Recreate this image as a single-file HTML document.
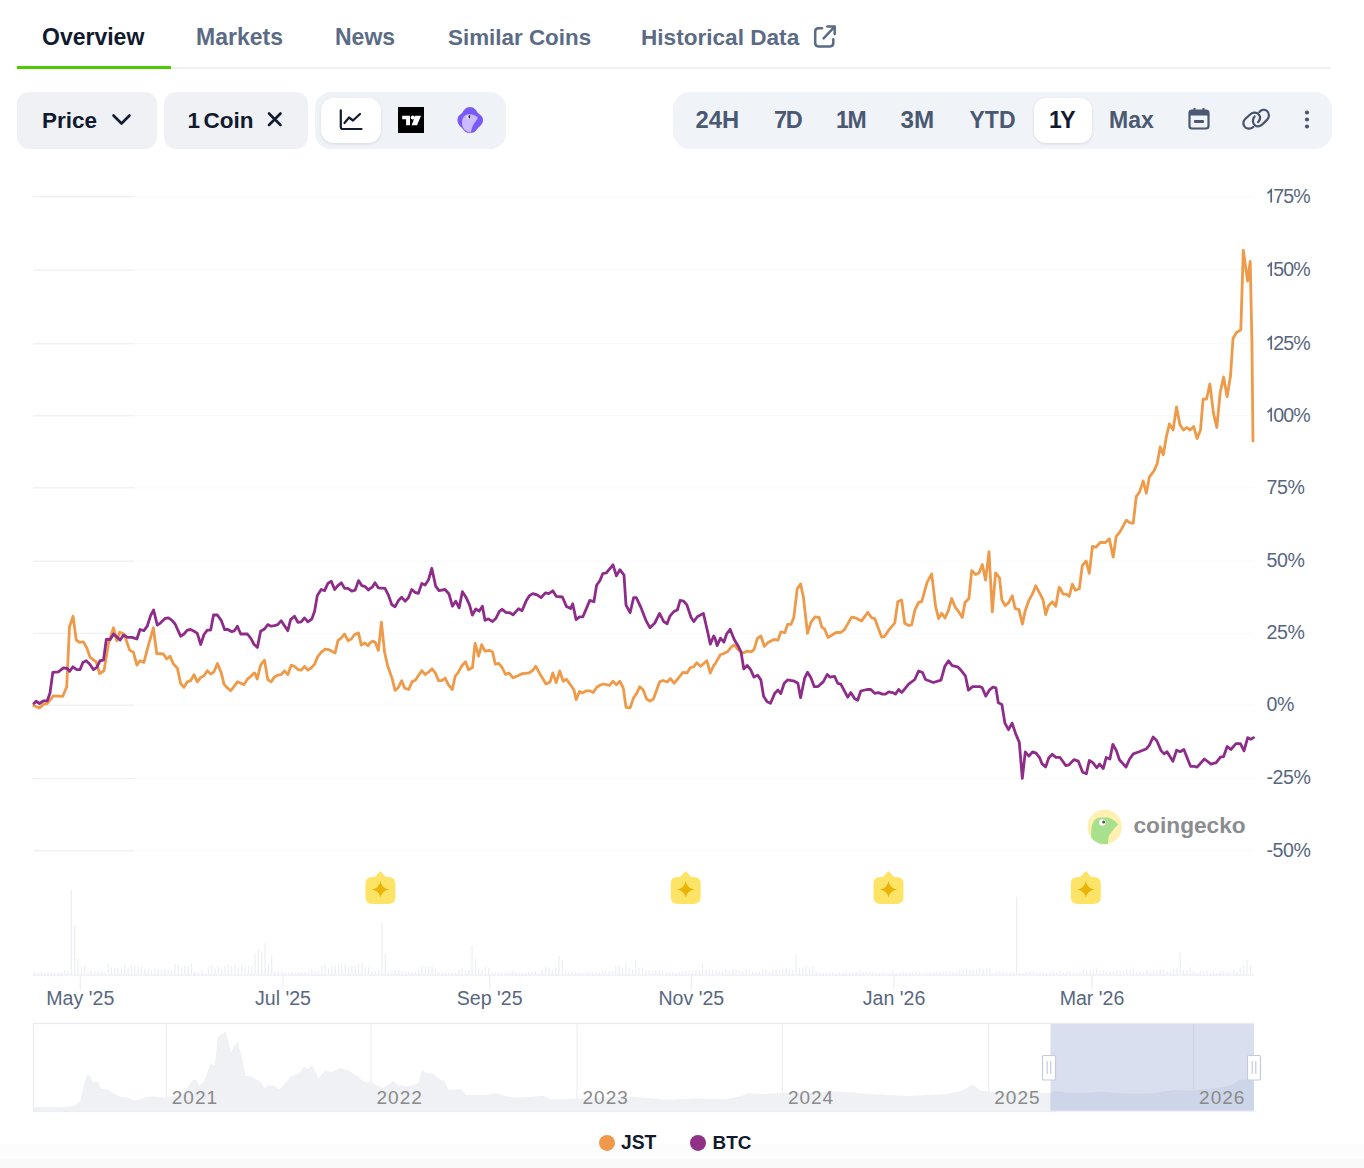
<!DOCTYPE html>
<html><head><meta charset="utf-8"><style>
html,body{margin:0;padding:0;background:#fff;width:1364px;height:1168px;overflow:hidden;position:relative;font-family:"Liberation Sans",sans-serif}
</style></head><body>
<svg width="1364" height="1168" viewBox="0 0 1364 1168" style="position:absolute;left:0;top:0"><defs><linearGradient id="bg" x1="0" y1="0" x2="0" y2="1"><stop offset="0" stop-color="#ffffff"/><stop offset="1" stop-color="#f8f9fa"/></linearGradient></defs><rect x="0" y="1144" width="1364" height="15" fill="#fcfcfd"/><rect x="0" y="1159" width="1364" height="9" fill="#f9f9fa"/><rect x="17" y="67" width="1314" height="2" fill="#eff1f4"/><rect x="17" y="66" width="154" height="3" fill="#4bcc00"/><g font-family="Liberation Sans, sans-serif" font-weight="bold" font-size="23" fill="#5b6b86"><text x="42" y="45" fill="#111a2e">Overview</text><text x="196" y="45">Markets</text><text x="335" y="45">News</text><text x="448" y="45" font-size="22.4">Similar Coins</text><text x="641" y="45" font-size="22.6">Historical Data</text></g><g fill="none" stroke="#5b6b86" stroke-width="2.5" stroke-linecap="round" stroke-linejoin="round"><path d="M822,28.2 L818.5,28.2 Q815.2,28.2 815.2,31.5 L815.2,43 Q815.2,46.4 818.5,46.4 L830,46.4 Q833.3,46.4 833.3,43 L833.3,39.3"/><path d="M827.3,26.6 L834.7,26.6 L834.7,34"/><path d="M834.2,27.1 L823.6,38.3"/></g><rect x="17" y="92" width="140" height="57" rx="12" fill="#eff1f5"/><rect x="164" y="92" width="144" height="57" rx="12" fill="#eff1f5"/><rect x="315" y="92" width="191" height="57" rx="16" fill="#eff2f7"/><rect x="673" y="92" width="659" height="57" rx="17" fill="#f0f3f8"/><rect x="321" y="97.7" width="60" height="45.3" rx="13" fill="#ffffff" filter="drop-shadow(0 1px 1.5px rgba(0,0,0,0.10))"/><rect x="1034" y="98" width="58" height="45" rx="12" fill="#ffffff" filter="drop-shadow(0 1px 1.5px rgba(0,0,0,0.10))"/><g font-family="Liberation Sans, sans-serif" font-weight="bold" font-size="22.5" fill="#111a2e"><text x="42" y="128">Price</text><text x="187.5" y="128">1</text><text x="203.5" y="128">Coin</text></g><path d="M113.5,115.5 L121.5,123.5 L129.5,115.5" fill="none" stroke="#111a2e" stroke-width="2.6" stroke-linecap="round" stroke-linejoin="round"/><path d="M269,113.5 L280.5,125 M280.5,113.5 L269,125" fill="none" stroke="#111a2e" stroke-width="2.6" stroke-linecap="round"/><path d="M340.8,110.3 L340.8,127 Q340.8,129 342.8,129 L361.5,129" fill="none" stroke="#111a2e" stroke-width="2.2" stroke-linecap="round"/><path d="M344.5,123 L349,117.5 L353,120.5 L360,114" fill="none" stroke="#111a2e" stroke-width="2.2" stroke-linecap="round" stroke-linejoin="round"/><rect x="398" y="107" width="26" height="26" fill="#000"/><path d="M402.2,115.7 L410,115.7 L410,125.2 L406.1,125.2 L406.1,119.2 L402.2,119.2 Z M415.2,115.7 L421,115.7 L417,125.2 L411.6,125.2 Z" fill="#fff"/><circle cx="412.8" cy="117.5" r="2.1" fill="#fff"/><path d="M470,107 C474,107 476,110 478,113 C480,115 483,116 483,120 C483,124 480,126 478,128 C476,131 474,133 470,133 C466,133 464,131 462,128 C460,126 457.5,124 457.5,120 C457.5,116 460,115 462,113 C464,110 466,107 470,107 Z" fill="#7a5af5"/><path d="M465,115.5 C468,113.5 474,114 477.5,117.3 C478.5,118.5 475,122 473.5,124.5 C472,127 471.5,130 470.8,132.6 C467,132 464,130 463,127.5 C461.5,124 461.5,118 465,115.5 Z" fill="#cbbafd"/><circle cx="468.9" cy="116.9" r="1.9" fill="#f4f0ff"/><ellipse cx="469.4" cy="116.8" rx="0.9" ry="1.7" fill="#1e1b4b"/><g font-family="Liberation Sans, sans-serif" font-weight="bold" font-size="23" fill="#4a5872"><text x="695.5" y="128" font-size="23.8" letter-spacing="0">24H</text><text x="774" y="128" font-size="23.5" letter-spacing="-1.3">7D</text><text x="836" y="128" font-size="23" letter-spacing="-1.2">1M</text><text x="900.5" y="128" font-size="24.2" letter-spacing="0">3M</text><text x="969.5" y="128" font-size="23" letter-spacing="0">YTD</text><text x="1109" y="128" font-size="23" letter-spacing="0">Max</text><text x="1049" y="128" font-size="23" letter-spacing="-1.6" fill="#111a2e">1Y</text></g><rect x="1189.5" y="110.5" width="19" height="18" rx="2.5" fill="none" stroke="#4a5872" stroke-width="2.2"/><rect x="1189.5" y="110.5" width="19" height="5" fill="#4a5872"/><rect x="1194" y="120" width="10" height="3" rx="1" fill="#4a5872"/><path d="M1194.5,108 L1194.5,111 M1203.5,108 L1203.5,111" stroke="#4a5872" stroke-width="2"/><g fill="none" stroke="#46536c" stroke-width="2.2" stroke-linecap="round"><path d="M1253.3,127 C1251,129 1246.5,129.5 1244.5,126.5 C1242.5,123.5 1243.5,120.5 1245.7,118.5 L1250.4,114.2 C1253,111.8 1257.3,112 1259.3,115 C1260.6,117.2 1260,120 1258.1,122.2"/><path d="M1254.6,116.4 C1252.2,119 1252.3,123.2 1255,125.3 C1257.5,127.2 1260.8,126 1262.5,124.3 L1267.2,119.6 C1269.5,117.2 1269.6,113.2 1267,111 C1264.5,109 1261.3,109.8 1259.4,111.9"/></g><circle cx="1307" cy="112.5" r="2.1" fill="#4a5872"/><circle cx="1307" cy="119.5" r="2.1" fill="#4a5872"/><circle cx="1307" cy="126.5" r="2.1" fill="#4a5872"/><rect x="33" y="196.1" width="1221" height="1.2" fill="#f9fafb"/><rect x="33" y="196.1" width="101" height="1.2" fill="#edf0f3"/><rect x="33" y="269.5" width="1221" height="1.2" fill="#f9fafb"/><rect x="33" y="269.5" width="101" height="1.2" fill="#edf0f3"/><rect x="33" y="343.1" width="1221" height="1.2" fill="#f9fafb"/><rect x="33" y="343.1" width="101" height="1.2" fill="#edf0f3"/><rect x="33" y="415.1" width="1221" height="1.2" fill="#f9fafb"/><rect x="33" y="415.1" width="101" height="1.2" fill="#edf0f3"/><rect x="33" y="487.2" width="1221" height="1.2" fill="#f9fafb"/><rect x="33" y="487.2" width="101" height="1.2" fill="#edf0f3"/><rect x="33" y="560.6" width="1221" height="1.2" fill="#f9fafb"/><rect x="33" y="560.6" width="101" height="1.2" fill="#edf0f3"/><rect x="33" y="632.8" width="1221" height="1.2" fill="#f9fafb"/><rect x="33" y="632.8" width="101" height="1.2" fill="#edf0f3"/><rect x="33" y="704.6" width="1221" height="1.2" fill="#f9fafb"/><rect x="33" y="704.6" width="101" height="1.2" fill="#edf0f3"/><rect x="33" y="777.9" width="1221" height="1.2" fill="#f9fafb"/><rect x="33" y="777.9" width="101" height="1.2" fill="#edf0f3"/><rect x="33" y="850.1" width="1221" height="1.2" fill="#f9fafb"/><rect x="33" y="850.1" width="101" height="1.2" fill="#edf0f3"/><g font-family="Liberation Sans, sans-serif" font-size="19.6" letter-spacing="-0.4" fill="#58677f"><path d="M1267.6,193.3 L1271.2,190.0 L1271.2,202.5" fill="none" stroke="#58677f" stroke-width="1.75" stroke-linejoin="miter"/><text x="1273.3" y="202.5" letter-spacing="-0.9">75%</text><path d="M1267.6,266.7 L1271.2,263.4 L1271.2,275.9" fill="none" stroke="#58677f" stroke-width="1.75" stroke-linejoin="miter"/><text x="1273.3" y="275.9" letter-spacing="-0.9">50%</text><path d="M1267.6,340.3 L1271.2,337.0 L1271.2,349.5" fill="none" stroke="#58677f" stroke-width="1.75" stroke-linejoin="miter"/><text x="1273.3" y="349.5" letter-spacing="-0.9">25%</text><path d="M1267.6,412.3 L1271.2,409.0 L1271.2,421.5" fill="none" stroke="#58677f" stroke-width="1.75" stroke-linejoin="miter"/><text x="1273.3" y="421.5" letter-spacing="-0.9">00%</text><text x="1266.5" y="493.6">75%</text><text x="1266.5" y="567.0">50%</text><text x="1266.5" y="639.2">25%</text><text x="1266.5" y="711.0">0%</text><text x="1266.5" y="784.3">-25%</text><text x="1266.5" y="856.5">-50%</text></g><g fill="#eceef3"><rect x="34.0" y="972.4" width="1.2" height="2.6"/><rect x="37.3" y="972.7" width="1.2" height="2.3"/><rect x="40.7" y="971.7" width="1.2" height="3.3"/><rect x="44.0" y="972.9" width="1.2" height="2.1"/><rect x="47.4" y="971.9" width="1.2" height="3.1"/><rect x="50.7" y="972.3" width="1.2" height="2.7"/><rect x="54.0" y="972.9" width="1.2" height="2.1"/><rect x="57.4" y="972.0" width="1.2" height="3.0"/><rect x="60.7" y="972.9" width="1.2" height="2.1"/><rect x="64.1" y="970.1" width="1.2" height="4.9"/><rect x="67.4" y="970.9" width="1.2" height="4.1"/><rect x="70.7" y="890.0" width="1.2" height="85.0"/><rect x="74.1" y="925.0" width="1.2" height="50.0"/><rect x="77.4" y="959.0" width="1.2" height="16.0"/><rect x="80.8" y="966.3" width="1.2" height="8.7"/><rect x="84.1" y="965.7" width="1.2" height="9.3"/><rect x="87.4" y="971.7" width="1.2" height="3.3"/><rect x="90.8" y="971.1" width="1.2" height="3.9"/><rect x="94.1" y="971.8" width="1.2" height="3.2"/><rect x="97.5" y="972.2" width="1.2" height="2.8"/><rect x="100.8" y="971.0" width="1.2" height="4.0"/><rect x="104.1" y="972.9" width="1.2" height="2.1"/><rect x="107.5" y="963.8" width="1.2" height="11.2"/><rect x="110.8" y="967.3" width="1.2" height="7.7"/><rect x="114.2" y="968.1" width="1.2" height="6.9"/><rect x="117.5" y="968.3" width="1.2" height="6.7"/><rect x="120.8" y="967.1" width="1.2" height="7.9"/><rect x="124.2" y="964.1" width="1.2" height="10.9"/><rect x="127.5" y="967.9" width="1.2" height="7.1"/><rect x="130.9" y="965.5" width="1.2" height="9.5"/><rect x="134.2" y="965.2" width="1.2" height="9.8"/><rect x="137.5" y="966.8" width="1.2" height="8.2"/><rect x="140.9" y="965.7" width="1.2" height="9.3"/><rect x="144.2" y="968.6" width="1.2" height="6.4"/><rect x="147.6" y="968.6" width="1.2" height="6.4"/><rect x="150.9" y="970.2" width="1.2" height="4.8"/><rect x="154.2" y="968.3" width="1.2" height="6.7"/><rect x="157.6" y="969.3" width="1.2" height="5.7"/><rect x="160.9" y="969.7" width="1.2" height="5.3"/><rect x="164.3" y="968.7" width="1.2" height="6.3"/><rect x="167.6" y="969.2" width="1.2" height="5.8"/><rect x="170.9" y="969.8" width="1.2" height="5.2"/><rect x="174.3" y="964.2" width="1.2" height="10.8"/><rect x="177.6" y="964.8" width="1.2" height="10.2"/><rect x="181.0" y="967.5" width="1.2" height="7.5"/><rect x="184.3" y="965.6" width="1.2" height="9.4"/><rect x="187.6" y="965.8" width="1.2" height="9.2"/><rect x="191.0" y="963.7" width="1.2" height="11.3"/><rect x="194.3" y="971.5" width="1.2" height="3.5"/><rect x="197.7" y="972.4" width="1.2" height="2.6"/><rect x="201.0" y="971.0" width="1.2" height="4.0"/><rect x="204.3" y="972.8" width="1.2" height="2.2"/><rect x="207.7" y="966.9" width="1.2" height="8.1"/><rect x="211.0" y="965.2" width="1.2" height="9.8"/><rect x="214.4" y="968.2" width="1.2" height="6.8"/><rect x="217.7" y="966.6" width="1.2" height="8.4"/><rect x="221.0" y="968.8" width="1.2" height="6.2"/><rect x="224.4" y="965.7" width="1.2" height="9.3"/><rect x="227.7" y="965.2" width="1.2" height="9.8"/><rect x="231.1" y="966.1" width="1.2" height="8.9"/><rect x="234.4" y="964.6" width="1.2" height="10.4"/><rect x="237.7" y="967.4" width="1.2" height="7.6"/><rect x="241.1" y="965.5" width="1.2" height="9.5"/><rect x="244.4" y="966.0" width="1.2" height="9.0"/><rect x="247.8" y="966.1" width="1.2" height="8.9"/><rect x="251.1" y="966.7" width="1.2" height="8.3"/><rect x="254.4" y="953.2" width="1.2" height="21.8"/><rect x="257.8" y="949.0" width="1.2" height="26.0"/><rect x="261.1" y="952.0" width="1.2" height="23.0"/><rect x="264.5" y="943.0" width="1.2" height="32.0"/><rect x="267.8" y="964.2" width="1.2" height="10.8"/><rect x="271.1" y="955.2" width="1.2" height="19.8"/><rect x="274.5" y="971.7" width="1.2" height="3.3"/><rect x="277.8" y="971.0" width="1.2" height="4.0"/><rect x="281.2" y="971.4" width="1.2" height="3.6"/><rect x="284.5" y="972.4" width="1.2" height="2.6"/><rect x="287.8" y="972.2" width="1.2" height="2.8"/><rect x="291.2" y="971.7" width="1.2" height="3.3"/><rect x="294.5" y="973.0" width="1.2" height="2.0"/><rect x="297.9" y="972.1" width="1.2" height="2.9"/><rect x="301.2" y="971.5" width="1.2" height="3.5"/><rect x="304.5" y="971.6" width="1.2" height="3.4"/><rect x="307.9" y="971.8" width="1.2" height="3.2"/><rect x="311.2" y="969.7" width="1.2" height="5.3"/><rect x="314.6" y="971.6" width="1.2" height="3.4"/><rect x="317.9" y="971.3" width="1.2" height="3.7"/><rect x="321.2" y="966.0" width="1.2" height="9.0"/><rect x="324.6" y="963.6" width="1.2" height="11.4"/><rect x="327.9" y="967.6" width="1.2" height="7.4"/><rect x="331.3" y="965.8" width="1.2" height="9.2"/><rect x="334.6" y="965.3" width="1.2" height="9.7"/><rect x="337.9" y="963.6" width="1.2" height="11.4"/><rect x="341.3" y="963.9" width="1.2" height="11.1"/><rect x="344.6" y="963.7" width="1.2" height="11.3"/><rect x="348.0" y="966.6" width="1.2" height="8.4"/><rect x="351.3" y="965.9" width="1.2" height="9.1"/><rect x="354.6" y="966.2" width="1.2" height="8.8"/><rect x="358.0" y="963.6" width="1.2" height="11.4"/><rect x="361.3" y="963.2" width="1.2" height="11.8"/><rect x="364.7" y="967.2" width="1.2" height="7.8"/><rect x="368.0" y="967.1" width="1.2" height="7.9"/><rect x="371.3" y="971.1" width="1.2" height="3.9"/><rect x="374.7" y="971.1" width="1.2" height="3.9"/><rect x="378.0" y="970.1" width="1.2" height="4.9"/><rect x="381.4" y="922.0" width="1.2" height="53.0"/><rect x="384.7" y="954.0" width="1.2" height="21.0"/><rect x="388.0" y="972.0" width="1.2" height="3.0"/><rect x="391.4" y="970.3" width="1.2" height="4.7"/><rect x="394.7" y="970.5" width="1.2" height="4.5"/><rect x="398.1" y="969.7" width="1.2" height="5.3"/><rect x="401.4" y="971.1" width="1.2" height="3.9"/><rect x="404.7" y="971.6" width="1.2" height="3.4"/><rect x="408.1" y="972.0" width="1.2" height="3.0"/><rect x="411.4" y="971.8" width="1.2" height="3.2"/><rect x="414.8" y="971.6" width="1.2" height="3.4"/><rect x="418.1" y="969.8" width="1.2" height="5.2"/><rect x="421.4" y="966.4" width="1.2" height="8.6"/><rect x="424.8" y="966.9" width="1.2" height="8.1"/><rect x="428.1" y="966.5" width="1.2" height="8.5"/><rect x="431.5" y="966.8" width="1.2" height="8.2"/><rect x="434.8" y="968.4" width="1.2" height="6.6"/><rect x="438.1" y="972.2" width="1.2" height="2.8"/><rect x="441.5" y="972.8" width="1.2" height="2.2"/><rect x="444.8" y="971.7" width="1.2" height="3.3"/><rect x="448.2" y="972.9" width="1.2" height="2.1"/><rect x="451.5" y="972.9" width="1.2" height="2.1"/><rect x="454.8" y="972.6" width="1.2" height="2.4"/><rect x="458.2" y="969.4" width="1.2" height="5.6"/><rect x="461.5" y="968.6" width="1.2" height="6.4"/><rect x="464.9" y="969.8" width="1.2" height="5.2"/><rect x="468.2" y="970.0" width="1.2" height="5.0"/><rect x="471.5" y="946.0" width="1.2" height="29.0"/><rect x="474.9" y="958.0" width="1.2" height="17.0"/><rect x="478.2" y="968.5" width="1.2" height="6.5"/><rect x="481.6" y="969.9" width="1.2" height="5.1"/><rect x="484.9" y="966.5" width="1.2" height="8.5"/><rect x="488.2" y="967.5" width="1.2" height="7.5"/><rect x="491.6" y="972.7" width="1.2" height="2.3"/><rect x="494.9" y="972.5" width="1.2" height="2.5"/><rect x="498.3" y="972.3" width="1.2" height="2.7"/><rect x="501.6" y="972.3" width="1.2" height="2.7"/><rect x="504.9" y="972.8" width="1.2" height="2.2"/><rect x="508.3" y="971.3" width="1.2" height="3.7"/><rect x="511.6" y="971.0" width="1.2" height="4.0"/><rect x="515.0" y="972.1" width="1.2" height="2.9"/><rect x="518.3" y="972.0" width="1.2" height="3.0"/><rect x="521.6" y="972.8" width="1.2" height="2.2"/><rect x="525.0" y="972.8" width="1.2" height="2.2"/><rect x="528.3" y="972.3" width="1.2" height="2.7"/><rect x="531.7" y="972.5" width="1.2" height="2.5"/><rect x="535.0" y="971.3" width="1.2" height="3.7"/><rect x="538.3" y="972.7" width="1.2" height="2.3"/><rect x="541.7" y="969.9" width="1.2" height="5.1"/><rect x="545.0" y="966.2" width="1.2" height="8.8"/><rect x="548.4" y="967.9" width="1.2" height="7.1"/><rect x="551.7" y="969.4" width="1.2" height="5.6"/><rect x="555.0" y="967.8" width="1.2" height="7.2"/><rect x="558.4" y="956.0" width="1.2" height="19.0"/><rect x="561.7" y="960.0" width="1.2" height="15.0"/><rect x="565.1" y="971.0" width="1.2" height="4.0"/><rect x="568.4" y="971.3" width="1.2" height="3.7"/><rect x="571.7" y="971.6" width="1.2" height="3.4"/><rect x="575.1" y="972.5" width="1.2" height="2.5"/><rect x="578.4" y="972.3" width="1.2" height="2.7"/><rect x="581.8" y="972.7" width="1.2" height="2.3"/><rect x="585.1" y="971.5" width="1.2" height="3.5"/><rect x="588.4" y="971.9" width="1.2" height="3.1"/><rect x="591.8" y="971.4" width="1.2" height="3.6"/><rect x="595.1" y="972.3" width="1.2" height="2.7"/><rect x="598.5" y="972.6" width="1.2" height="2.4"/><rect x="601.8" y="971.4" width="1.2" height="3.6"/><rect x="605.1" y="971.0" width="1.2" height="4.0"/><rect x="608.5" y="971.3" width="1.2" height="3.7"/><rect x="611.8" y="971.4" width="1.2" height="3.6"/><rect x="615.2" y="965.7" width="1.2" height="9.3"/><rect x="618.5" y="966.0" width="1.2" height="9.0"/><rect x="621.8" y="968.1" width="1.2" height="6.9"/><rect x="625.2" y="962.0" width="1.2" height="13.0"/><rect x="628.5" y="967.6" width="1.2" height="7.4"/><rect x="631.9" y="968.9" width="1.2" height="6.1"/><rect x="635.2" y="960.0" width="1.2" height="15.0"/><rect x="638.5" y="967.9" width="1.2" height="7.1"/><rect x="641.9" y="968.0" width="1.2" height="7.0"/><rect x="645.2" y="970.9" width="1.2" height="4.1"/><rect x="648.6" y="970.1" width="1.2" height="4.9"/><rect x="651.9" y="971.7" width="1.2" height="3.3"/><rect x="655.2" y="970.2" width="1.2" height="4.8"/><rect x="658.6" y="970.0" width="1.2" height="5.0"/><rect x="661.9" y="970.1" width="1.2" height="4.9"/><rect x="665.3" y="971.9" width="1.2" height="3.1"/><rect x="668.6" y="972.3" width="1.2" height="2.7"/><rect x="671.9" y="972.3" width="1.2" height="2.7"/><rect x="675.3" y="972.4" width="1.2" height="2.6"/><rect x="678.6" y="972.4" width="1.2" height="2.6"/><rect x="682.0" y="971.1" width="1.2" height="3.9"/><rect x="685.3" y="970.3" width="1.2" height="4.7"/><rect x="688.6" y="970.5" width="1.2" height="4.5"/><rect x="692.0" y="971.6" width="1.2" height="3.4"/><rect x="695.3" y="971.0" width="1.2" height="4.0"/><rect x="698.7" y="970.6" width="1.2" height="4.4"/><rect x="702.0" y="964.0" width="1.2" height="11.0"/><rect x="705.3" y="970.0" width="1.2" height="5.0"/><rect x="708.7" y="969.3" width="1.2" height="5.7"/><rect x="712.0" y="969.7" width="1.2" height="5.3"/><rect x="715.4" y="969.7" width="1.2" height="5.3"/><rect x="718.7" y="970.6" width="1.2" height="4.4"/><rect x="722.0" y="971.5" width="1.2" height="3.5"/><rect x="725.4" y="969.6" width="1.2" height="5.4"/><rect x="728.7" y="971.0" width="1.2" height="4.0"/><rect x="732.1" y="969.6" width="1.2" height="5.4"/><rect x="735.4" y="969.1" width="1.2" height="5.9"/><rect x="738.7" y="970.8" width="1.2" height="4.2"/><rect x="742.1" y="970.8" width="1.2" height="4.2"/><rect x="745.4" y="969.2" width="1.2" height="5.8"/><rect x="748.8" y="969.8" width="1.2" height="5.2"/><rect x="752.1" y="971.5" width="1.2" height="3.5"/><rect x="755.4" y="971.6" width="1.2" height="3.4"/><rect x="758.8" y="971.5" width="1.2" height="3.5"/><rect x="762.1" y="969.3" width="1.2" height="5.7"/><rect x="765.5" y="969.6" width="1.2" height="5.4"/><rect x="768.8" y="971.6" width="1.2" height="3.4"/><rect x="772.1" y="969.5" width="1.2" height="5.5"/><rect x="775.5" y="969.1" width="1.2" height="5.9"/><rect x="778.8" y="970.0" width="1.2" height="5.0"/><rect x="782.2" y="968.6" width="1.2" height="6.4"/><rect x="785.5" y="967.8" width="1.2" height="7.2"/><rect x="788.8" y="969.5" width="1.2" height="5.5"/><rect x="792.2" y="969.9" width="1.2" height="5.1"/><rect x="795.5" y="955.0" width="1.2" height="20.0"/><rect x="798.9" y="967.4" width="1.2" height="7.6"/><rect x="802.2" y="967.9" width="1.2" height="7.1"/><rect x="805.5" y="966.3" width="1.2" height="8.7"/><rect x="808.9" y="968.3" width="1.2" height="6.7"/><rect x="812.2" y="966.5" width="1.2" height="8.5"/><rect x="815.6" y="971.3" width="1.2" height="3.7"/><rect x="818.9" y="972.6" width="1.2" height="2.4"/><rect x="822.2" y="972.5" width="1.2" height="2.5"/><rect x="825.6" y="972.4" width="1.2" height="2.6"/><rect x="828.9" y="972.5" width="1.2" height="2.5"/><rect x="832.3" y="971.8" width="1.2" height="3.2"/><rect x="835.6" y="972.5" width="1.2" height="2.5"/><rect x="838.9" y="972.2" width="1.2" height="2.8"/><rect x="842.3" y="972.7" width="1.2" height="2.3"/><rect x="845.6" y="971.2" width="1.2" height="3.8"/><rect x="849.0" y="972.3" width="1.2" height="2.7"/><rect x="852.3" y="972.1" width="1.2" height="2.9"/><rect x="855.6" y="971.8" width="1.2" height="3.2"/><rect x="859.0" y="971.2" width="1.2" height="3.8"/><rect x="862.3" y="972.2" width="1.2" height="2.8"/><rect x="865.7" y="971.2" width="1.2" height="3.8"/><rect x="869.0" y="972.0" width="1.2" height="3.0"/><rect x="872.3" y="971.9" width="1.2" height="3.1"/><rect x="875.7" y="972.0" width="1.2" height="3.0"/><rect x="879.0" y="973.0" width="1.2" height="2.0"/><rect x="882.4" y="972.1" width="1.2" height="2.9"/><rect x="885.7" y="972.6" width="1.2" height="2.4"/><rect x="889.0" y="973.0" width="1.2" height="2.0"/><rect x="892.4" y="971.4" width="1.2" height="3.6"/><rect x="895.7" y="972.7" width="1.2" height="2.3"/><rect x="899.1" y="972.1" width="1.2" height="2.9"/><rect x="902.4" y="971.5" width="1.2" height="3.5"/><rect x="905.7" y="971.9" width="1.2" height="3.1"/><rect x="909.1" y="972.3" width="1.2" height="2.7"/><rect x="912.4" y="972.0" width="1.2" height="3.0"/><rect x="915.8" y="971.9" width="1.2" height="3.1"/><rect x="919.1" y="971.4" width="1.2" height="3.6"/><rect x="922.4" y="972.8" width="1.2" height="2.2"/><rect x="925.8" y="971.9" width="1.2" height="3.1"/><rect x="929.1" y="972.5" width="1.2" height="2.5"/><rect x="932.5" y="972.4" width="1.2" height="2.6"/><rect x="935.8" y="971.5" width="1.2" height="3.5"/><rect x="939.1" y="972.0" width="1.2" height="3.0"/><rect x="942.5" y="971.9" width="1.2" height="3.1"/><rect x="945.8" y="971.5" width="1.2" height="3.5"/><rect x="949.2" y="971.2" width="1.2" height="3.8"/><rect x="952.5" y="972.1" width="1.2" height="2.9"/><rect x="955.8" y="971.8" width="1.2" height="3.2"/><rect x="959.2" y="969.5" width="1.2" height="5.5"/><rect x="962.5" y="969.5" width="1.2" height="5.5"/><rect x="965.9" y="968.9" width="1.2" height="6.1"/><rect x="969.2" y="969.6" width="1.2" height="5.4"/><rect x="972.5" y="969.4" width="1.2" height="5.6"/><rect x="975.9" y="969.6" width="1.2" height="5.4"/><rect x="979.2" y="968.2" width="1.2" height="6.8"/><rect x="982.6" y="968.9" width="1.2" height="6.1"/><rect x="985.9" y="968.4" width="1.2" height="6.6"/><rect x="989.2" y="968.2" width="1.2" height="6.8"/><rect x="992.6" y="972.5" width="1.2" height="2.5"/><rect x="995.9" y="971.9" width="1.2" height="3.1"/><rect x="999.3" y="971.1" width="1.2" height="3.9"/><rect x="1002.6" y="971.3" width="1.2" height="3.7"/><rect x="1005.9" y="972.7" width="1.2" height="2.3"/><rect x="1009.3" y="972.8" width="1.2" height="2.2"/><rect x="1012.6" y="972.1" width="1.2" height="2.9"/><rect x="1016.0" y="897.0" width="1.2" height="78.0"/><rect x="1019.3" y="972.5" width="1.2" height="2.5"/><rect x="1022.6" y="972.9" width="1.2" height="2.1"/><rect x="1026.0" y="971.7" width="1.2" height="3.3"/><rect x="1029.3" y="971.4" width="1.2" height="3.6"/><rect x="1032.7" y="971.2" width="1.2" height="3.8"/><rect x="1036.0" y="972.7" width="1.2" height="2.3"/><rect x="1039.3" y="971.6" width="1.2" height="3.4"/><rect x="1042.7" y="971.7" width="1.2" height="3.3"/><rect x="1046.0" y="972.7" width="1.2" height="2.3"/><rect x="1049.4" y="971.2" width="1.2" height="3.8"/><rect x="1052.7" y="971.1" width="1.2" height="3.9"/><rect x="1056.0" y="972.6" width="1.2" height="2.4"/><rect x="1059.4" y="971.1" width="1.2" height="3.9"/><rect x="1062.7" y="972.2" width="1.2" height="2.8"/><rect x="1066.1" y="972.0" width="1.2" height="3.0"/><rect x="1069.4" y="971.0" width="1.2" height="4.0"/><rect x="1072.7" y="971.3" width="1.2" height="3.7"/><rect x="1076.1" y="972.7" width="1.2" height="2.3"/><rect x="1079.4" y="972.1" width="1.2" height="2.9"/><rect x="1082.8" y="968.9" width="1.2" height="6.1"/><rect x="1086.1" y="969.6" width="1.2" height="5.4"/><rect x="1089.4" y="970.2" width="1.2" height="4.8"/><rect x="1092.8" y="969.7" width="1.2" height="5.3"/><rect x="1096.1" y="968.1" width="1.2" height="6.9"/><rect x="1099.5" y="970.9" width="1.2" height="4.1"/><rect x="1102.8" y="970.3" width="1.2" height="4.7"/><rect x="1106.1" y="970.7" width="1.2" height="4.3"/><rect x="1109.5" y="971.9" width="1.2" height="3.1"/><rect x="1112.8" y="971.0" width="1.2" height="4.0"/><rect x="1116.2" y="970.1" width="1.2" height="4.9"/><rect x="1119.5" y="970.5" width="1.2" height="4.5"/><rect x="1122.8" y="971.8" width="1.2" height="3.2"/><rect x="1126.2" y="969.0" width="1.2" height="6.0"/><rect x="1129.5" y="969.6" width="1.2" height="5.4"/><rect x="1132.9" y="969.1" width="1.2" height="5.9"/><rect x="1136.2" y="971.7" width="1.2" height="3.3"/><rect x="1139.5" y="971.2" width="1.2" height="3.8"/><rect x="1142.9" y="971.9" width="1.2" height="3.1"/><rect x="1146.2" y="969.7" width="1.2" height="5.3"/><rect x="1149.6" y="971.2" width="1.2" height="3.8"/><rect x="1152.9" y="971.6" width="1.2" height="3.4"/><rect x="1156.2" y="970.7" width="1.2" height="4.3"/><rect x="1159.6" y="969.3" width="1.2" height="5.7"/><rect x="1162.9" y="969.5" width="1.2" height="5.5"/><rect x="1166.3" y="971.2" width="1.2" height="3.8"/><rect x="1169.6" y="971.6" width="1.2" height="3.4"/><rect x="1172.9" y="969.2" width="1.2" height="5.8"/><rect x="1176.3" y="967.7" width="1.2" height="7.3"/><rect x="1179.6" y="953.0" width="1.2" height="22.0"/><rect x="1183.0" y="969.6" width="1.2" height="5.4"/><rect x="1186.3" y="969.8" width="1.2" height="5.2"/><rect x="1189.6" y="967.2" width="1.2" height="7.8"/><rect x="1193.0" y="971.7" width="1.2" height="3.3"/><rect x="1196.3" y="972.8" width="1.2" height="2.2"/><rect x="1199.7" y="970.2" width="1.2" height="4.8"/><rect x="1203.0" y="971.1" width="1.2" height="3.9"/><rect x="1206.3" y="970.6" width="1.2" height="4.4"/><rect x="1209.7" y="972.7" width="1.2" height="2.3"/><rect x="1213.0" y="970.4" width="1.2" height="4.6"/><rect x="1216.4" y="972.8" width="1.2" height="2.2"/><rect x="1219.7" y="970.4" width="1.2" height="4.6"/><rect x="1223.0" y="971.6" width="1.2" height="3.4"/><rect x="1226.4" y="972.0" width="1.2" height="3.0"/><rect x="1229.7" y="971.3" width="1.2" height="3.7"/><rect x="1233.1" y="970.2" width="1.2" height="4.8"/><rect x="1236.4" y="972.2" width="1.2" height="2.8"/><rect x="1239.7" y="968.0" width="1.2" height="7.0"/><rect x="1243.1" y="964.8" width="1.2" height="10.2"/><rect x="1246.4" y="960.0" width="1.2" height="15.0"/><rect x="1249.8" y="965.0" width="1.2" height="10.0"/></g><rect x="33" y="974.5" width="1221" height="1.2" fill="#eceef3"/><rect x="79.7" y="975" width="1.2" height="15" fill="#eceef3"/><rect x="282.4" y="975" width="1.2" height="15" fill="#eceef3"/><rect x="489.1" y="975" width="1.2" height="15" fill="#eceef3"/><rect x="690.7" y="975" width="1.2" height="15" fill="#eceef3"/><rect x="893.4" y="975" width="1.2" height="15" fill="#eceef3"/><rect x="1091.4" y="975" width="1.2" height="15" fill="#eceef3"/><g font-family="Liberation Sans, sans-serif" font-size="19.6" fill="#58677f" text-anchor="middle"><text x="80.3" y="1005">May '25</text><text x="283" y="1005">Jul '25</text><text x="489.7" y="1005">Sep '25</text><text x="691.3" y="1005">Nov '25</text><text x="894" y="1005">Jan '26</text><text x="1092" y="1005">Mar '26</text></g><rect x="33.5" y="1023.5" width="1220" height="88" fill="#ffffff" stroke="#e8ebf0" stroke-width="1.2"/><rect x="165.7" y="1024" width="1.2" height="86" fill="#eceef3"/><rect x="370.4" y="1024" width="1.2" height="86" fill="#eceef3"/><rect x="576.4" y="1024" width="1.2" height="86" fill="#eceef3"/><rect x="781.8" y="1024" width="1.2" height="86" fill="#eceef3"/><rect x="988.2" y="1024" width="1.2" height="86" fill="#eceef3"/><path d="M33,1111.5 L34.1,1107.2 L51.7,1106.7 L62.6,1107.2 L73.4,1105.9 L80.2,1101.8 L84.3,1082.8 L87.0,1075.2 L90.2,1076.0 L92.9,1082.3 L97.8,1081.5 L101.1,1088.8 L107.3,1089.6 L111.4,1092.3 L119.5,1096.4 L127.7,1097.7 L134.4,1100.5 L141.2,1099.1 L149.4,1096.4 L157.5,1096.9 L165.6,1097.7 L172.4,1096.4 L181.9,1093.7 L187.4,1088.3 L192.8,1080.1 L196.0,1079.6 L199.6,1086.1 L205.0,1080.1 L210.4,1062.5 L214.5,1066.5 L218.0,1036.7 L222.6,1033.4 L225.9,1031.8 L228.0,1039.4 L230.8,1053.0 L234.0,1046.2 L237.5,1041.6 L241.6,1055.7 L245.7,1076.0 L251.1,1076.0 L255.2,1078.8 L260.6,1081.5 L264.7,1088.3 L268.7,1085.0 L274.2,1086.1 L279.6,1089.6 L286.4,1081.5 L291.8,1076.0 L298.6,1074.1 L304.0,1066.5 L308.1,1069.3 L312.1,1065.2 L314.9,1070.6 L318.9,1078.8 L324.4,1070.6 L331.1,1072.0 L340.6,1067.9 L348.8,1070.6 L358.3,1076.9 L363.7,1081.5 L371.8,1082.8 L382.7,1088.3 L388.1,1085.0 L393.5,1080.7 L398.4,1085.2 L406.7,1086.6 L417.9,1083.8 L422.0,1069.9 L426.2,1072.7 L433.2,1074.1 L440.2,1079.7 L444.3,1081.1 L448.5,1089.4 L461.1,1089.4 L466.6,1095.0 L473.6,1095.0 L487.5,1095.0 L495.9,1093.0 L501.5,1095.0 L515.4,1097.8 L529.3,1096.9 L543.2,1095.8 L550.2,1099.2 L562.8,1099.2 L585.0,1098.6 L626.8,1096.4 L654.7,1098.6 L668.6,1099.7 L696.5,1098.6 L724.4,1099.2 L738.3,1096.9 L749.4,1093.0 L760.0,1094.1 L760.6,1094.1 L770.1,1093.6 L778.7,1093.0 L797.4,1092.2 L838.5,1091.5 L872.1,1094.1 L909.5,1096.0 L946.9,1094.1 L961.9,1090.4 L973.1,1084.8 L980.6,1090.4 L999.3,1093.0 L1049.7,1093.0 L1051.1,1092.4 L1054.6,1091.0 L1065.2,1092.4 L1082.8,1093.3 L1100.4,1091.5 L1118.0,1093.3 L1135.6,1093.8 L1153.2,1093.3 L1176.0,1089.8 L1188.4,1090.7 L1206.0,1088.9 L1223.6,1087.1 L1232.4,1084.5 L1239.4,1080.1 L1253.5,1079.2 L1254,1111.5 Z" fill="#eff1f5"/><clipPath id="sel"><rect x="1050.5" y="1024" width="203.5" height="86.5"/></clipPath><rect x="1050.5" y="1024" width="203.5" height="86.5" fill="#d9dfee"/><path d="M33,1111.5 L34.1,1107.2 L51.7,1106.7 L62.6,1107.2 L73.4,1105.9 L80.2,1101.8 L84.3,1082.8 L87.0,1075.2 L90.2,1076.0 L92.9,1082.3 L97.8,1081.5 L101.1,1088.8 L107.3,1089.6 L111.4,1092.3 L119.5,1096.4 L127.7,1097.7 L134.4,1100.5 L141.2,1099.1 L149.4,1096.4 L157.5,1096.9 L165.6,1097.7 L172.4,1096.4 L181.9,1093.7 L187.4,1088.3 L192.8,1080.1 L196.0,1079.6 L199.6,1086.1 L205.0,1080.1 L210.4,1062.5 L214.5,1066.5 L218.0,1036.7 L222.6,1033.4 L225.9,1031.8 L228.0,1039.4 L230.8,1053.0 L234.0,1046.2 L237.5,1041.6 L241.6,1055.7 L245.7,1076.0 L251.1,1076.0 L255.2,1078.8 L260.6,1081.5 L264.7,1088.3 L268.7,1085.0 L274.2,1086.1 L279.6,1089.6 L286.4,1081.5 L291.8,1076.0 L298.6,1074.1 L304.0,1066.5 L308.1,1069.3 L312.1,1065.2 L314.9,1070.6 L318.9,1078.8 L324.4,1070.6 L331.1,1072.0 L340.6,1067.9 L348.8,1070.6 L358.3,1076.9 L363.7,1081.5 L371.8,1082.8 L382.7,1088.3 L388.1,1085.0 L393.5,1080.7 L398.4,1085.2 L406.7,1086.6 L417.9,1083.8 L422.0,1069.9 L426.2,1072.7 L433.2,1074.1 L440.2,1079.7 L444.3,1081.1 L448.5,1089.4 L461.1,1089.4 L466.6,1095.0 L473.6,1095.0 L487.5,1095.0 L495.9,1093.0 L501.5,1095.0 L515.4,1097.8 L529.3,1096.9 L543.2,1095.8 L550.2,1099.2 L562.8,1099.2 L585.0,1098.6 L626.8,1096.4 L654.7,1098.6 L668.6,1099.7 L696.5,1098.6 L724.4,1099.2 L738.3,1096.9 L749.4,1093.0 L760.0,1094.1 L760.6,1094.1 L770.1,1093.6 L778.7,1093.0 L797.4,1092.2 L838.5,1091.5 L872.1,1094.1 L909.5,1096.0 L946.9,1094.1 L961.9,1090.4 L973.1,1084.8 L980.6,1090.4 L999.3,1093.0 L1049.7,1093.0 L1051.1,1092.4 L1054.6,1091.0 L1065.2,1092.4 L1082.8,1093.3 L1100.4,1091.5 L1118.0,1093.3 L1135.6,1093.8 L1153.2,1093.3 L1176.0,1089.8 L1188.4,1090.7 L1206.0,1088.9 L1223.6,1087.1 L1232.4,1084.5 L1239.4,1080.1 L1253.5,1079.2 L1254,1111.5 Z" fill="#cdd5e8" clip-path="url(#sel)"/><rect x="1193" y="1024" width="1.2" height="65" fill="#c9d1e3"/><g font-family="Liberation Sans, sans-serif" font-size="19" letter-spacing="1" fill="#8a8a8a"><text x="171.8" y="1104">2021</text><text x="376.5" y="1104">2022</text><text x="582.5" y="1104">2023</text><text x="787.9" y="1104">2024</text><text x="994.3" y="1104">2025</text><text x="1199.1" y="1104">2026</text></g><rect x="1042.5" y="1055.5" width="13" height="24.5" rx="1" fill="#fff" stroke="#c3cbdd" stroke-width="1.2"/><path d="M1047.2,1061 L1047.2,1074 M1050.8,1061 L1050.8,1074" stroke="#b8c2d8" stroke-width="1"/><rect x="1247.5" y="1055.5" width="13" height="24.5" rx="1" fill="#fff" stroke="#c3cbdd" stroke-width="1.2"/><path d="M1252.2,1061 L1252.2,1074 M1255.8,1061 L1255.8,1074" stroke="#b8c2d8" stroke-width="1"/><clipPath id="gc"><circle cx="1104.7" cy="827" r="17.2"/></clipPath><circle cx="1104.7" cy="827" r="17.2" fill="#fdf0b0"/><path clip-path="url(#gc)" d="M1090,846 L1091.2,839.6 Q1091,827 1092.5,823.8 Q1094.5,818.5 1098.5,817.8 L1107.7,817.2 Q1114,819 1118.3,824.4 Q1114,828 1111.7,831.7 Q1108.6,835 1108.4,838.3 L1107.7,846 Z" fill="#a8e08e"/><circle cx="1102.4" cy="822.4" r="3.2" fill="#fff"/><circle cx="1103.6" cy="822" r="1.5" fill="#555"/><text x="1133.5" y="832.7" font-family="Liberation Sans, sans-serif" font-weight="bold" font-size="22.7" fill="#8b8c8f">coingecko</text><polyline points="33.9,705.8 39.5,708.0 43.9,704.1 47.3,703.5 53.4,695.8 62.8,696.3 66.7,686.8 69.5,626.7 73.1,616.2 76.2,640.0 79.5,642.3 83.4,641.8 86.8,647.9 90.1,657.3 96.2,661.8 99.6,673.5 104.0,670.7 108.5,643.4 113.5,627.8 116.8,640.7 119.6,632.3 124.1,634.0 129.6,650.1 133.5,652.3 136.9,665.1 140.0,660.7 143.9,662.4 148.3,645.7 153.4,627.8 156.7,653.5 163.4,654.0 166.7,659.0 170.1,656.2 173.4,664.0 177.3,667.9 180.6,683.5 184.0,687.4 187.3,681.8 190.6,680.7 194.0,674.6 197.3,681.8 200.7,677.4 204.0,675.7 207.3,670.7 210.7,674.0 214.0,671.8 217.4,663.5 221.3,672.9 224.0,684.1 226.8,687.4 230.7,690.7 234.1,686.3 237.4,681.8 244.1,684.6 247.4,679.1 250.8,676.3 254.1,672.9 255.0,673.5 257.2,679.1 260.6,665.2 264.5,660.2 267.8,679.7 271.1,681.9 274.5,676.9 277.8,675.2 281.2,674.7 284.5,670.8 287.8,674.7 291.2,665.2 294.5,666.3 297.9,669.6 301.2,670.2 304.5,666.3 307.9,670.2 311.2,668.0 314.6,664.1 317.9,656.3 321.2,652.4 325.1,649.1 328.5,649.6 331.8,651.3 335.1,653.0 337.9,640.7 341.3,637.9 344.6,634.0 348.0,640.7 351.3,639.0 354.6,634.6 358.5,632.9 361.3,645.2 364.6,642.9 368.0,645.7 370.0,642.9 372.6,641.1 375.3,642.4 378.4,650.4 381.4,622.2 384.5,651.7 387.6,665.7 392.0,678.1 395.1,690.4 398.2,687.7 401.7,680.7 404.7,688.2 408.7,689.5 412.2,681.6 415.3,680.3 417.9,676.3 421.9,670.6 425.0,674.5 428.9,671.9 432.0,668.8 435.5,673.2 438.6,680.7 441.7,680.7 445.2,678.1 448.3,684.7 452.3,689.5 455.3,675.9 458.0,672.8 461.9,665.7 465.5,661.8 468.5,669.7 472.5,667.5 475.1,643.3 478.6,656.1 481.7,644.6 485.0,651.1 489.1,650.4 492.5,651.8 495.3,664.1 498.7,663.4 502.1,667.5 505.5,674.4 509.0,673.0 513.1,677.8 517.9,675.8 522.0,673.7 528.8,673.0 532.9,670.3 535.7,666.2 539.8,673.7 546.0,684.0 550.1,681.9 552.8,673.0 556.2,682.6 559.7,671.0 563.1,681.2 566.5,679.2 571.3,686.0 574.0,690.1 576.1,699.7 579.5,691.5 582.3,692.9 586.4,690.8 589.8,690.8 593.2,692.6 596.6,687.4 600.0,685.3 603.4,684.0 609.6,685.3 613.0,681.2 616.4,684.7 619.9,681.2 623.3,688.1 626.0,707.3 630.1,707.9 633.6,697.7 637.0,692.9 639.7,686.7 643.2,690.1 646.6,699.0 650.0,701.1 653.4,699.0 659.6,681.9 663.0,680.5 667.1,681.9 670.5,678.5 674.0,683.3 678.1,678.5 682.9,672.3 687.0,673.0 690.4,667.5 693.8,666.8 696.6,662.7 700.7,666.2 706.8,660.7 710.3,673.0 713.7,665.5 715.0,664.1 720.5,654.5 723.2,653.8 727.3,651.8 731.4,647.0 734.2,644.9 737.6,649.0 742.4,653.2 747.2,651.1 751.3,651.8 754.0,649.7 757.5,638.1 760.9,636.0 764.3,646.3 768.4,642.2 773.9,639.5 778.0,640.1 780.8,631.9 784.9,632.6 787.6,624.4 791.0,624.4 793.8,617.5 797.2,588.8 800.6,584.0 803.4,597.0 807.5,633.3 810.9,622.3 815.0,616.8 819.1,617.5 821.8,627.1 824.6,629.2 828.0,637.4 830.0,636.3 836.2,632.5 840.8,632.5 844.6,629.4 851.6,617.1 855.4,617.8 861.6,620.9 867.8,612.4 871.6,617.8 874.7,618.6 881.6,637.1 884.7,636.3 889.3,629.4 894.7,623.2 897.8,601.6 901.7,600.1 904.7,623.2 908.6,625.5 911.7,624.8 914.8,610.1 918.6,602.4 921.7,601.6 927.1,582.4 931.7,573.9 935.6,606.3 938.6,618.6 941.7,613.2 945.0,618.0 948.3,610.7 951.7,598.5 955.0,606.8 958.4,611.3 962.3,617.4 965.0,602.4 968.9,598.5 971.7,570.6 975.6,574.5 979.0,572.9 982.3,564.5 985.6,580.1 989.0,551.7 992.3,611.8 995.6,572.9 999.5,577.9 1001.8,599.6 1005.1,605.7 1008.5,602.9 1012.3,595.7 1015.1,608.5 1019.0,609.6 1022.4,624.1 1025.1,611.3 1028.5,601.3 1032.9,592.9 1035.7,585.7 1043.0,599.6 1045.7,614.6 1048.5,605.7 1052.4,601.8 1055.8,606.3 1059.1,587.3 1060.0,588.0 1063.1,594.1 1066.2,594.1 1069.2,596.5 1072.3,584.1 1075.4,590.3 1079.3,588.7 1082.3,565.6 1086.2,561.0 1089.3,573.3 1092.4,546.4 1096.2,547.1 1100.1,542.5 1105.5,542.5 1109.3,538.7 1113.2,557.2 1116.2,536.4 1120.1,531.7 1126.3,520.2 1129.3,522.5 1133.2,523.3 1136.3,496.3 1139.4,492.4 1143.2,480.9 1146.3,493.2 1149.4,477.0 1154.0,470.9 1157.1,463.9 1160.2,447.0 1163.3,454.7 1166.3,437.0 1169.4,423.9 1173.1,430.1 1176.5,407.0 1180.0,424.9 1183.4,430.1 1186.8,427.5 1190.2,430.1 1193.7,426.6 1197.1,438.6 1200.5,430.1 1203.1,399.2 1206.5,399.2 1209.9,383.8 1213.4,412.9 1216.8,427.5 1220.2,392.4 1223.6,377.0 1227.1,396.7 1230.5,376.1 1233.0,338.5 1236.5,332.5 1240.8,329.9 1243.3,250.3 1247.6,281.1 1250.2,261.4 1251.9,341.0 1253.0,441.0" fill="none" stroke="#ee9a48" stroke-width="2.8" stroke-linejoin="round" stroke-linecap="round"/><polyline points="33.9,703.5 36.1,701.3 39.5,703.5 43.4,700.8 47.3,700.8 50.0,693.0 52.8,672.4 58.4,671.8 63.4,667.9 67.3,668.5 69.5,671.3 72.9,666.8 76.8,669.6 80.1,669.6 82.9,662.4 86.2,660.7 89.6,664.0 93.5,669.6 96.8,667.4 100.1,660.7 103.5,660.1 106.3,639.5 110.2,639.5 113.5,634.0 120.2,640.1 123.5,635.1 127.4,637.3 131.9,637.3 136.9,639.0 140.0,629.5 143.9,630.6 147.2,626.2 150.6,615.6 153.6,610.0 157.3,625.1 160.6,622.8 165.0,618.4 168.4,617.8 171.7,620.1 175.1,624.0 180.6,636.2 184.0,634.0 187.3,630.1 190.6,629.5 194.0,631.2 197.3,633.4 200.7,644.5 204.0,634.5 207.3,630.1 210.7,630.1 213.5,615.0 217.4,615.0 221.3,620.6 224.6,629.5 227.9,629.5 231.8,631.7 234.6,630.6 237.4,626.2 240.7,634.0 247.4,634.0 250.8,638.4 254.1,644.5 255.0,645.2 257.4,647.4 260.6,631.2 264.5,629.0 267.8,624.6 271.1,626.2 274.5,625.7 277.8,624.6 281.2,620.7 284.5,625.7 287.8,630.7 290.6,619.6 294.5,616.2 297.9,622.3 301.2,621.8 304.5,617.9 307.9,621.8 311.8,619.0 314.6,611.2 317.3,595.6 321.2,589.5 324.6,590.6 327.9,583.4 331.3,581.2 334.6,589.5 337.9,585.6 341.3,582.8 344.6,588.4 348.0,588.4 351.8,591.2 355.2,590.1 358.5,580.6 361.9,585.6 365.2,586.7 368.5,590.1 370.0,588.4 372.2,587.3 375.0,582.8 378.3,587.8 385.0,588.4 388.4,595.1 391.7,604.5 395.0,606.8 398.4,600.6 401.7,597.3 405.1,601.2 408.4,597.8 411.7,589.5 415.1,592.3 418.4,593.4 421.8,583.4 425.1,585.0 428.4,580.0 431.8,568.3 435.7,586.2 439.0,590.6 445.1,589.5 449.0,594.0 452.4,606.2 455.7,601.2 459.1,607.9 462.4,591.7 466.3,597.8 469.6,605.1 472.4,615.1 475.8,609.0 479.1,611.2 482.4,606.2 485.0,620.3 488.4,618.9 492.5,621.6 496.0,618.2 499.4,611.4 502.1,609.3 506.2,612.7 509.7,612.7 513.1,614.8 518.6,608.6 522.0,610.7 526.1,601.1 529.5,595.6 532.9,593.6 537.1,594.9 541.2,597.7 545.3,592.9 548.7,593.6 552.8,590.8 556.2,596.3 562.4,597.0 566.5,606.6 570.6,608.6 572.7,603.8 576.1,619.6 579.5,616.8 582.9,616.8 589.8,600.4 593.9,601.8 596.6,585.3 600.0,580.5 602.7,573.7 606.2,573.0 613.0,564.8 616.4,575.8 619.9,569.6 624.0,575.1 626.0,605.2 630.1,612.7 633.6,597.7 636.3,597.7 641.1,607.9 645.9,620.3 650.0,627.8 654.8,623.0 659.6,613.4 663.7,621.6 667.1,623.7 669.9,616.2 674.0,611.4 677.4,610.0 680.1,600.4 683.6,601.1 687.0,605.2 691.1,617.5 693.8,621.6 697.3,616.8 703.4,613.4 707.5,631.2 710.3,644.2 713.7,636.0 715.0,638.1 717.1,645.6 720.5,638.1 723.9,642.2 726.6,634.0 730.1,629.2 734.2,639.5 738.3,646.3 741.0,651.8 743.8,668.9 747.2,665.5 750.6,669.6 754.0,677.1 757.5,675.1 760.9,679.9 763.6,696.3 767.1,701.8 770.5,703.2 774.6,693.6 778.0,690.1 780.8,693.6 784.2,683.3 787.6,679.9 794.5,681.2 797.9,683.3 800.6,697.7 804.7,677.8 807.5,672.3 810.9,677.8 814.3,686.7 817.7,686.7 823.2,681.9 827.3,674.4 830.0,677.2 834.6,676.4 837.7,683.3 840.8,684.1 847.7,697.2 850.8,692.6 854.7,698.7 857.7,700.3 860.8,691.0 867.0,689.5 870.8,689.5 874.7,693.3 878.5,692.6 882.4,694.1 885.5,694.1 888.6,691.8 892.4,692.6 895.5,694.1 898.6,689.5 901.7,692.6 908.6,684.1 914.8,679.5 918.6,671.0 922.5,672.5 925.5,679.5 933.3,682.5 941.0,680.2 944.8,666.4 948.6,660.8 952.2,665.6 957.6,666.8 960.6,669.8 965.4,675.8 968.4,690.2 972.6,686.6 979.8,686.6 982.2,687.8 985.8,696.1 989.3,690.2 992.9,687.2 995.9,687.8 998.3,702.7 1001.9,704.5 1004.9,723.1 1008.5,729.7 1012.1,723.1 1015.7,733.9 1019.3,742.3 1022.3,778.3 1025.3,751.9 1028.9,756.1 1032.5,751.9 1036.1,753.1 1039.7,757.9 1042.1,763.9 1045.7,766.9 1048.7,757.9 1052.3,754.3 1055.9,757.3 1059.5,757.3 1060.0,757.5 1065.9,765.6 1068.8,764.9 1073.9,759.7 1078.3,761.2 1082.7,772.2 1086.4,773.7 1089.3,760.5 1093.0,762.7 1096.7,767.8 1099.6,764.1 1103.3,768.5 1106.2,757.5 1109.9,759.0 1112.8,744.3 1116.5,750.9 1119.4,759.7 1126.0,767.1 1129.6,759.0 1133.3,753.9 1139.2,751.7 1146.5,748.7 1149.4,745.1 1153.1,737.0 1156.8,740.7 1161.2,750.9 1164.1,753.9 1167.0,751.7 1172.9,761.2 1176.6,750.2 1180.2,751.7 1183.9,749.5 1190.5,766.3 1194.2,766.3 1197.1,767.1 1204.4,759.0 1211.0,764.1 1216.2,762.7 1220.6,756.8 1223.5,756.8 1227.2,746.5 1230.8,749.5 1236.0,743.6 1240.4,743.6 1244.0,750.9 1247.7,737.7 1250.6,739.2 1253.5,737.7" fill="none" stroke="#8e2c89" stroke-width="2.8" stroke-linejoin="round" stroke-linecap="round"/><g transform="translate(380.4,0)">
<path d="M-8,877 L-5.6,877 L0,871 L5.6,877 L8,877 Q15,877 15,884 L15,897 Q15,904 8,904 L-8,904 Q-15,904 -15,897 L-15,884 Q-15,877 -8,877 Z" fill="#fde466"/>
<path d="M0,881 Q1.2,888.2 8.7,889.4 Q1.2,890.6 0,897.8 Q-1.2,890.6 -8.7,889.4 Q-1.2,888.2 0,881 Z" fill="#eab308"/>
</g><g transform="translate(685.7,0)">
<path d="M-8,877 L-5.6,877 L0,871 L5.6,877 L8,877 Q15,877 15,884 L15,897 Q15,904 8,904 L-8,904 Q-15,904 -15,897 L-15,884 Q-15,877 -8,877 Z" fill="#fde466"/>
<path d="M0,881 Q1.2,888.2 8.7,889.4 Q1.2,890.6 0,897.8 Q-1.2,890.6 -8.7,889.4 Q-1.2,888.2 0,881 Z" fill="#eab308"/>
</g><g transform="translate(888.5,0)">
<path d="M-8,877 L-5.6,877 L0,871 L5.6,877 L8,877 Q15,877 15,884 L15,897 Q15,904 8,904 L-8,904 Q-15,904 -15,897 L-15,884 Q-15,877 -8,877 Z" fill="#fde466"/>
<path d="M0,881 Q1.2,888.2 8.7,889.4 Q1.2,890.6 0,897.8 Q-1.2,890.6 -8.7,889.4 Q-1.2,888.2 0,881 Z" fill="#eab308"/>
</g><g transform="translate(1085.8,0)">
<path d="M-8,877 L-5.6,877 L0,871 L5.6,877 L8,877 Q15,877 15,884 L15,897 Q15,904 8,904 L-8,904 Q-15,904 -15,897 L-15,884 Q-15,877 -8,877 Z" fill="#fde466"/>
<path d="M0,881 Q1.2,888.2 8.7,889.4 Q1.2,890.6 0,897.8 Q-1.2,890.6 -8.7,889.4 Q-1.2,888.2 0,881 Z" fill="#eab308"/>
</g><circle cx="607" cy="1142.9" r="8" fill="#f0994a"/><circle cx="698" cy="1142.9" r="8" fill="#8e3187"/><g font-family="Liberation Sans, sans-serif" font-weight="bold" font-size="19.3" fill="#111a2e"><text x="621" y="1149">JST</text><text x="712.5" y="1149" font-size="18.9">BTC</text></g></svg>
</body></html>
